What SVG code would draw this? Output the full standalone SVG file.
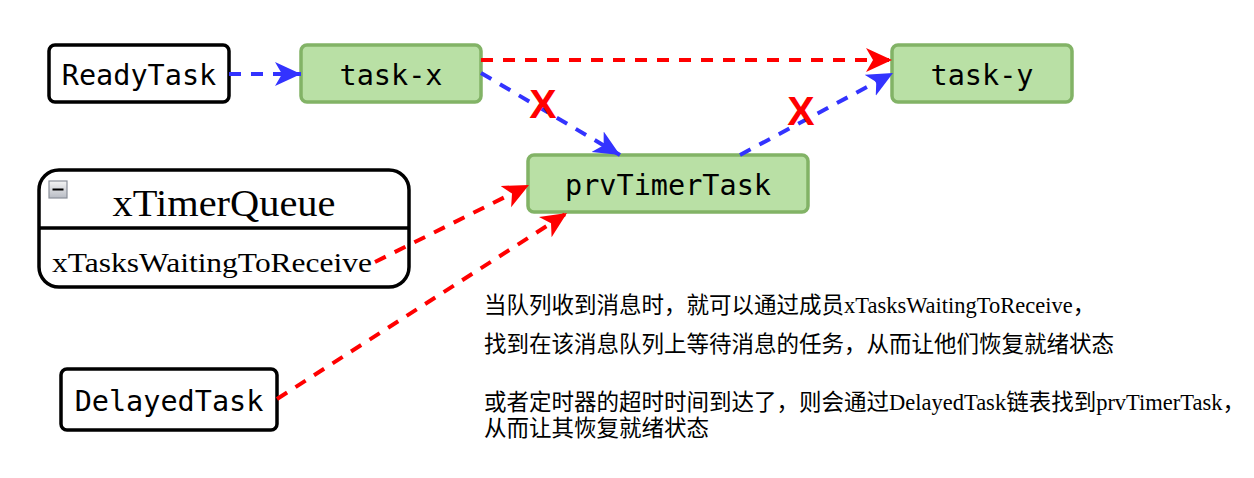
<svg xmlns="http://www.w3.org/2000/svg" width="1254" height="478" viewBox="0 0 1254 478">
<style>
.plain{fill:#fff;stroke:#000;stroke-width:3.5}
.green{fill:#b9e0a5;stroke:#82b366;stroke-width:3.5}
.mono{font-family:"DejaVu Sans Mono",monospace;font-size:28.5px;fill:#000;text-anchor:middle}
.serif{font-family:"Liberation Serif","Noto Sans CJK SC",serif;fill:#000}
.note{font-family:"Liberation Serif","Noto Sans CJK SC",serif;font-size:22.5px;fill:#000}
.blue{fill:none;stroke:#3333ff;stroke-width:4;stroke-dasharray:12 10}
.red{fill:none;stroke:#ff0000;stroke-width:4;stroke-dasharray:12 10}
.x{font-family:"Liberation Sans",sans-serif;font-weight:bold;font-size:41px;fill:#ff0000;text-anchor:middle}
</style>
<defs>
<marker id="ab" markerUnits="userSpaceOnUse" markerWidth="30" markerHeight="30" refX="26" refY="12" orient="auto">
<path d="M0,0 L26,12 L0,24 L7,12 Z" fill="#3333ff"/>
</marker>
<marker id="ar" markerUnits="userSpaceOnUse" markerWidth="30" markerHeight="30" refX="26" refY="12" orient="auto">
<path d="M0,0 L26,12 L0,24 L7,12 Z" fill="#ff0000"/>
</marker>
<linearGradient id="ig" x1="0" y1="0" x2="0" y2="1">
<stop offset="0" stop-color="#f4f4f4"/>
<stop offset="1" stop-color="#b8bcc4"/>
</linearGradient>
</defs>
<g id="readytask">
<rect class="plain" x="49" y="45" width="180" height="57" rx="6"/>
<text class="mono" x="139" y="85">ReadyTask</text>
</g>
<g id="task-x">
<rect class="green" x="301" y="45" width="180" height="57" rx="6"/>
<text class="mono" x="391" y="85">task-x</text>
</g>
<g id="task-y">
<rect class="green" x="892" y="45" width="180" height="57" rx="6"/>
<text class="mono" x="982" y="85">task-y</text>
</g>
<g id="prvtimertask">
<rect class="green" x="528" y="155" width="280" height="57" rx="6"/>
<text class="mono" x="668" y="195">prvTimerTask</text>
</g>
<g id="xtimerqueue">
<rect class="plain" x="39" y="170" width="370" height="117" rx="20"/>
<line x1="39" y1="228" x2="409" y2="228" stroke="#000" stroke-width="3.5"/>
<rect x="49" y="181" width="18" height="17" fill="url(#ig)" stroke="#8a8f99" stroke-width="1.2"/>
<line x1="52.5" y1="189.5" x2="63.5" y2="189.5" stroke="#000" stroke-width="2"/>
<text class="serif" x="224" y="216" font-size="38" text-anchor="middle" textLength="223" lengthAdjust="spacingAndGlyphs">xTimerQueue</text>
<text class="serif" x="52" y="272" font-size="27" textLength="320" lengthAdjust="spacingAndGlyphs">xTasksWaitingToReceive</text>
</g>
<g id="delayedtask">
<rect class="plain" x="61" y="369" width="216" height="61" rx="6"/>
<text class="mono" x="169" y="411">DelayedTask</text>
</g>
<g id="connectors">
<path class="blue" d="M229,74 L301,74" marker-end="url(#ab)"/>
<path class="red" d="M481,60 L892,60" marker-end="url(#ar)"/>
<path class="blue" d="M481,73 L620,155" marker-end="url(#ab)"/>
<path class="blue" d="M740,155 L893,73" marker-end="url(#ab)"/>
<path class="red" d="M375,262 L529,185" marker-end="url(#ar)"/>
<path class="red" d="M277,399 L567,213" marker-end="url(#ar)"/>
<text class="x" x="543" y="118">X</text>
<text class="x" x="801" y="125">X</text>
</g>
<g id="note">
<text class="note" x="484" y="313">当队列收到消息时，就可以通过成员xTasksWaitingToReceive，</text>
<text class="note" x="484" y="352">找到在该消息队列上等待消息的任务，从而让他们恢复就绪状态</text>
<text class="note" x="484" y="410">或者定时器的超时时间到达了，则会通过DelayedTask链表找到prvTimerTask，</text>
<text class="note" x="484" y="436">从而让其恢复就绪状态</text>
</g>
</svg>
